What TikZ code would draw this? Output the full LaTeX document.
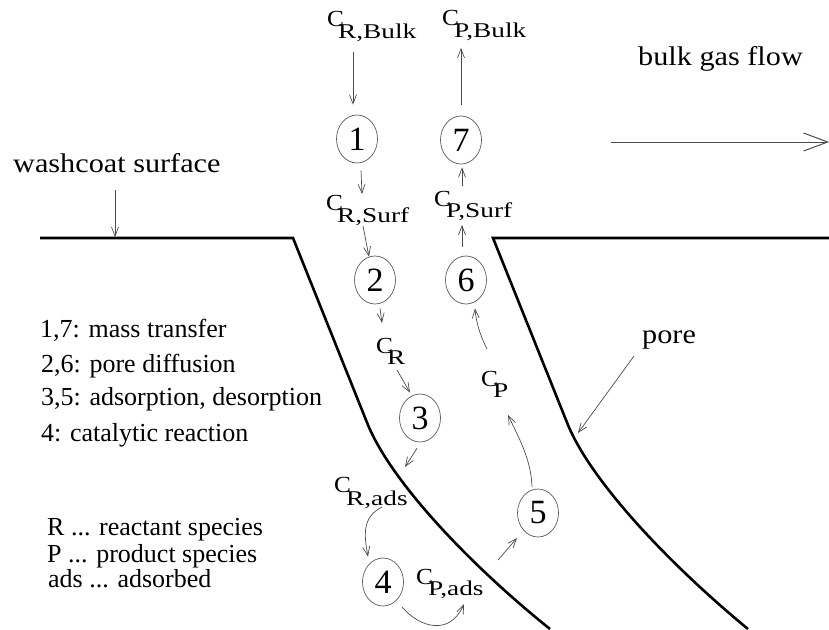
\documentclass[tikz,border=0pt]{standalone}
\usepackage{fontspec}
\setmainfont{Liberation Serif}
\newfontfamily\widefont{Liberation Serif}[FakeStretch=1.12]
\newfontfamily\cfont{Liberation Serif}[FakeStretch=1.1]
\newfontfamily\subfont{Liberation Serif}[FakeStretch=1.3]
\usetikzlibrary{arrows.meta,shapes.geometric,calc}
\begin{document}
\begin{tikzpicture}[x=1pt,y=-1pt,
  wall/.style={line width=2.6pt, line join=miter},
  arr/.style={draw=black!70, line width=0.7pt, -{Straight Barb[length=9pt,width=7pt]}},
  flow/.style={draw=black!70, line width=1pt, -{Straight Barb[length=24pt,width=18pt]}},
  stage/.style={ellipse, draw=black!65, line width=0.7pt, minimum width=41pt, minimum height=48pt, inner sep=0pt, font=\fontsize{34}{34}\selectfont},
  conc/.style={inner sep=0pt, anchor=base west, font=\cfont\fontsize{23}{23}\selectfont},
  csub/.style={inner sep=0pt, anchor=base west, font=\subfont\fontsize{21}{21}\selectfont},
  bigtxt/.style={inner sep=0pt, anchor=base west, font=\widefont\fontsize{27}{27}\selectfont},
  listtxt/.style={inner sep=0pt, anchor=base west, font=\fontsize{26}{26}\selectfont},
]
\useasboundingbox (0,0) rectangle (829,629);

% pore walls
\draw[wall] (40,238) -- (293,238) -- (368,425) .. controls (393,485) and (475,569) .. (550,629);
\draw[wall] (829,238) -- (493,238) -- (568,425) .. controls (593,485) and (675,569) .. (748,629);

% stages
\node[stage] (c1) at (357,139) {1};
\node[stage] (c7) at (461,140) {7};
\node[stage] (c2) at (375,280) {2};
\node[stage] (c6) at (466,280) {6};
\node[stage] (c3) at (420,418) {3};
\node[stage] (c5) at (538,513) {5};
\node[stage] (c4) at (383,582) {4};

% concentrations: C and its lowered subscript
\node[conc] (CRbulk) at (327,26) {C};
\node[csub] (CRbulk-s) at ($(CRbulk.base west)+(11,12)$) {R,Bulk};
\node[conc] (CPbulk) at (442,25) {C};
\node[csub] (CPbulk-s) at ($(CPbulk.base west)+(12,12)$) {P,Bulk};
\node[conc] (CRsurf) at (326,210) {C};
\node[csub] (CRsurf-s) at ($(CRsurf.base west)+(11,12)$) {R,Surf};
\node[conc] (CPsurf) at (434,206) {C};
\node[csub] (CPsurf-s) at ($(CPsurf.base west)+(12,11)$) {P,Surf};
\node[conc] (CR) at (376,353) {C};
\node[csub] (CR-s) at ($(CR.base west)+(11,11)$) {R};
\node[conc] (CP) at (481,386) {C};
\node[csub] (CP-s) at ($(CP.base west)+(12,11)$) {P};
\node[conc] (CRads) at (334,492) {C};
\node[csub] (CRads-s) at ($(CRads.base west)+(12,13)$) {R,ads};
\node[conc] (CPads) at (416,584) {C};
\node[csub] (CPads-s) at ($(CPads.base west)+(12,11)$) {P,ads};

% texts
\node[bigtxt] (washcoat) at (13,172) {washcoat surface};
\node[bigtxt] (gasflow) at (638,65) {bulk gas flow};
\node[bigtxt] (pore) at (642,343) {pore};

\node[listtxt] (l1) at (40,337) {1,7: mass transfer};
\node[listtxt] (l2) at (41,372) {2,6: pore diffusion};
\node[listtxt] (l3) at (41,405) {3,5: adsorption, desorption};
\node[listtxt] (l4) at (41,441) {4: catalytic reaction};

\node[listtxt] (k1) at (47,535) {R ... reactant species};
\node[listtxt] (k2) at (47,562) {P ... product species};
\node[listtxt] (k3) at (48,587) {ads ... adsorbed};

% reactant path
\draw[arr] ($(CRbulk.base west)+(26,26)$) -- ($(c1.north)+(-4,-10)$);
\draw[arr] ($(c1.south)+(4,7)$) -- ($(CRsurf.base west)+(36,-16)$);
\draw[arr] ($(CRsurf.base west)+(37,16)$) -- ($(c2.north)+(-6,1)$);
\draw[arr] ($(c2.south)+(5,4)$) -- ($(CR.base west)+(6,-30)$);
\draw[arr] ($(CR.base west)+(21,17)$) -- ($(c3.north)+(-10,-1)$);
\draw[arr] ($(c3.south)+(-3,6)$) -- ($(CRads.base west)+(71,-25)$);
\draw[arr] ($(CRads.base west)+(48,15)$) .. controls (362,517) and (364,535) .. ($(c4.north)+(-15,-1)$);
% product path
\draw[arr] ($(c4.center)+(19,25)$) .. controls (420,628) and (450,636) .. ($(CPads.base west)+(48,20)$);
\draw[arr] ($(CPads.base west)+(82,-24)$) -- ($(c5.center)+(-21,25)$);
\draw[arr] ($(c5.north)+(-6,-2)$) .. controls (531,460) and (520,440) .. ($(CP.base west)+(27,29)$);
\draw[arr] ($(CP.base west)+(6,-37)$) .. controls (480,335) and (476,322) .. ($(c6.south)+(9,4)$);
\draw[arr] ($(c6.north)+(-4,-9)$) -- ($(CPsurf.base west)+(28,19)$);
\draw[arr] ($(CPsurf.base west)+(28,-20)$) -- ($(c7.south)+(1,3)$);
\draw[arr] ($(c7.north)+(0,-11)$) -- ($(CPbulk.base west)+(19,23)$);

% pointers
\coordinate (ws) at (115,237);
\draw[arr] ($(washcoat.base west)+(102,18)$) -- (ws);
\coordinate (pw) at (578,433);
\draw[arr] ($(pore.base west)+(-8,13)$) -- (pw);
\coordinate (gf) at (829,142);
\draw[flow] ($(gasflow.base west)+(-27,77)$) -- (gf);
\end{tikzpicture}
\end{document}
